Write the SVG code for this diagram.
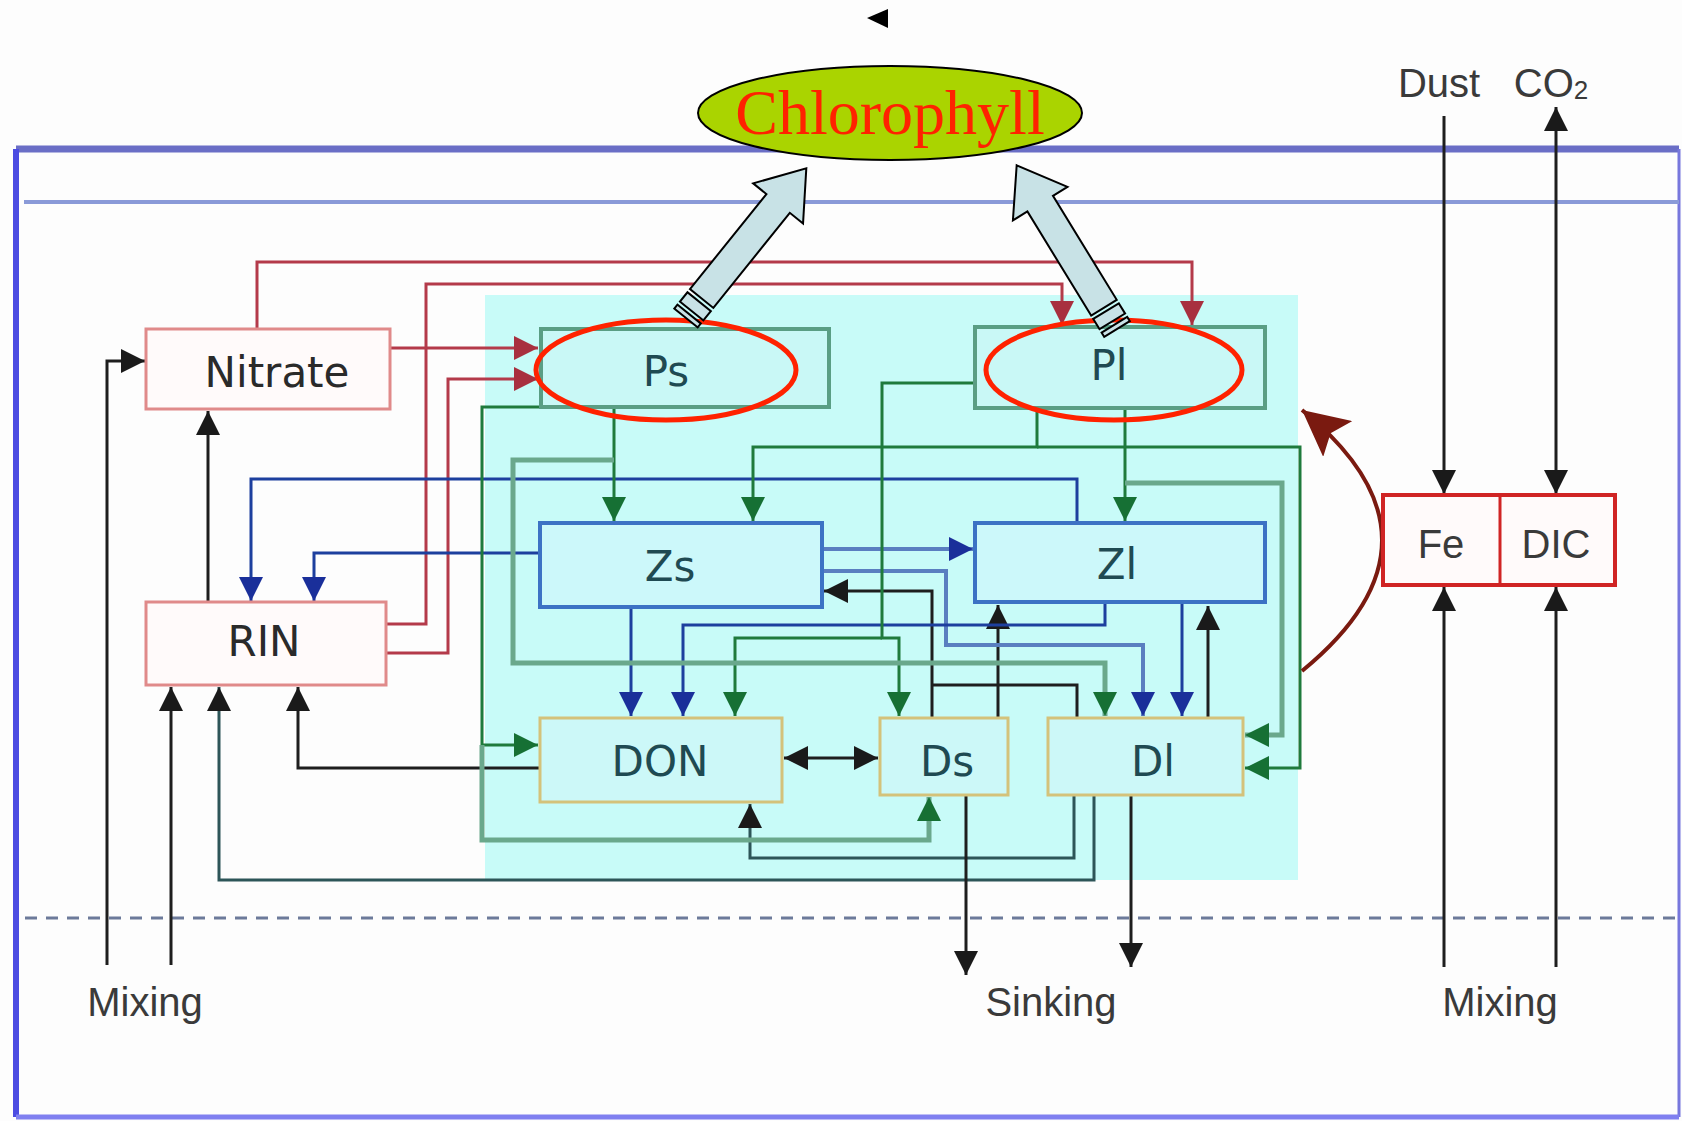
<svg xmlns="http://www.w3.org/2000/svg" width="1682" height="1121" viewBox="0 0 1682 1121">
<style>
.ln{fill:none;stroke-width:3}
.red{stroke:#b43a4a}
.blk{stroke:#1e1e1e}
.teal{stroke:#2d5558}
.blu{stroke:#1d3f9e}
.lblu{stroke:#5a7ec0;stroke-width:4}
.grn{stroke:#1f7a3c}
.gg{stroke:#6aa88c;stroke-width:5}
.box{stroke-width:4}
.pbox{fill:#c9f8f6;stroke:#5a9e84}
.zbox{fill:#ccf8fa;stroke:#3c72c4}
.dbox{fill:#ccf8f8;stroke:#d4c27a;stroke-width:3}
.wbox{fill:#fffafa;stroke:#e08a8a;stroke-width:3}
.lbl{font-family:"DejaVu Sans",sans-serif;fill:#1f4a52;text-anchor:middle;font-size:42px}
.dk{fill:#2a2a2a}
.side{font-family:"Liberation Sans",Arial,sans-serif;fill:#3a3a3a;font-size:40px;text-anchor:middle}
.blockarrow{fill:#c8e2e6;stroke:#000;stroke-width:2}
.hl{fill:none;stroke:#ff2200;stroke-width:5}
</style>
<defs>
<marker id="aK" viewBox="0 0 24 24" refX="24" refY="12" markerWidth="24" markerHeight="24" markerUnits="userSpaceOnUse" orient="auto-start-reverse"><path d="M0,0 L24,12 L0,24 Z" fill="#1a1a1a"/></marker>
<marker id="aR" viewBox="0 0 24 24" refX="24" refY="12" markerWidth="24" markerHeight="24" markerUnits="userSpaceOnUse" orient="auto"><path d="M0,0 L24,12 L0,24 Z" fill="#a8303f"/></marker>
<marker id="aB" viewBox="0 0 24 24" refX="24" refY="12" markerWidth="24" markerHeight="24" markerUnits="userSpaceOnUse" orient="auto"><path d="M0,0 L24,12 L0,24 Z" fill="#1a2f9a"/></marker>
<marker id="aG" viewBox="0 0 24 24" refX="24" refY="12" markerWidth="24" markerHeight="24" markerUnits="userSpaceOnUse" orient="auto"><path d="M0,0 L24,12 L0,24 Z" fill="#167034"/></marker>
<marker id="aD" viewBox="0 0 40 40" refX="40" refY="20" markerWidth="46" markerHeight="46" markerUnits="userSpaceOnUse" orient="auto"><path d="M0,0 L40,20 L0,40 L8,20 Z" fill="#7a1a10"/></marker>
</defs>
<rect width="1682" height="1121" fill="#fdfdfd"/>
<g id="frame">
<path d="M16,149 H1679" stroke="#6a6ec6" stroke-width="7" fill="none"/>
<path d="M16,149 V1117" stroke="#4c4ce2" stroke-width="6" fill="none"/>
<path d="M1679,149 V1117" stroke="#7777dd" stroke-width="3" fill="none"/>
<path d="M16,1117 H1679" stroke="#8080f0" stroke-width="5" fill="none"/>
<path d="M24,202 H1679" stroke="#8a9ad8" stroke-width="4" fill="none"/>
<path d="M25,918 H1679" stroke="#6c7a9a" stroke-width="3" stroke-dasharray="12 9" fill="none"/>
</g>
<rect id="zone" x="485" y="295" width="813" height="585" fill="#c8fbf8"/>
<polygon points="867,18 888,9 888,28" fill="#000"/>
<g id="connectors">
<path class="ln red" d="M257,329 V262 H1192 V325" marker-end="url(#aR)"/>
<path class="ln red" d="M386,624 H426 V284 H1062 V325" marker-end="url(#aR)"/>
<path class="ln red" d="M391,348 H538" marker-end="url(#aR)"/>
<path class="ln red" d="M386,653 H448 V379 H538" marker-end="url(#aR)"/>
<path class="ln blk" d="M107,965 V361 H145" marker-end="url(#aK)"/>
<path class="ln blk" d="M171,965 V687" marker-end="url(#aK)"/>
<path class="ln teal" d="M1094,795 V880 H219 V687" marker-end="url(#aK)"/>
<path class="ln blk" d="M540,768 H298 V687" marker-end="url(#aK)"/>
<path class="ln blk" d="M208,601 V411" marker-end="url(#aK)"/>
<path class="ln teal" d="M1074,795 V858 H750 V804" marker-end="url(#aK)"/>
<path class="ln blk" d="M784,758 H878" marker-start="url(#aK)" marker-end="url(#aK)"/>
<path class="ln blk" d="M998,718 V605" marker-end="url(#aK)"/>
<path class="ln blk" d="M1208,718 V606" marker-end="url(#aK)"/>
<path class="ln blk" d="M932,718 V591 H824" marker-end="url(#aK)"/>
<path class="ln blk" d="M1077,718 V685 H932"/>
<path class="ln blk" d="M966,795 V975" marker-end="url(#aK)"/>
<path class="ln blk" d="M1131,795 V967" marker-end="url(#aK)"/>
<path class="ln blk" d="M1444,116 V494" marker-end="url(#aK)"/>
<path class="ln blk" d="M1556,494 V107" marker-start="url(#aK)" marker-end="url(#aK)"/>
<path class="ln blk" d="M1444,967 V587" marker-end="url(#aK)"/>
<path class="ln blk" d="M1556,967 V587" marker-end="url(#aK)"/>
<path class="ln blu" d="M540,553 H314 V601" marker-end="url(#aB)"/>
<path class="ln blu" d="M1077,523 V479 H251 V601" marker-end="url(#aB)"/>
<path class="ln lblu" d="M822,549 H973" marker-end="url(#aB)"/>
<path class="ln lblu" d="M822,571 H946 V645 H1143 V716" marker-end="url(#aB)"/>
<path class="ln blu" d="M631,608 V716" marker-end="url(#aB)"/>
<path class="ln blu" d="M1105,602 V625 H683 V716" marker-end="url(#aB)"/>
<path class="ln blu" d="M1182,604 V716" marker-end="url(#aB)"/>
<path class="ln grn" d="M614,408 V521" marker-end="url(#aG)"/>
<path class="ln grn" d="M1037,408 V447 H753 V521" marker-end="url(#aG)"/>
<path class="ln grn" d="M1037,447 H1300 V768 H1245" marker-end="url(#aG)"/>
<path class="ln grn" d="M1125,408 V521" marker-end="url(#aG)"/>
<path class="ln gg" d="M1125,483 H1282 V735 H1245" marker-end="url(#aG)"/>
<path class="ln grn" d="M975,383 H882 V638 H899 V716" marker-end="url(#aG)"/>
<path class="ln grn" d="M882,638 H735 V716" marker-end="url(#aG)"/>
<path class="ln gg" d="M614,460 H513 V663 H1105 V716" marker-end="url(#aG)"/>
<path class="ln grn" d="M541,407 H482 V745 H538" marker-end="url(#aG)"/>
<path class="ln gg" d="M482,745 V840 H929 V797" marker-end="url(#aG)"/>
<path d="M1302,671 Q1462,540 1302,410" fill="none" stroke="#7a1a10" stroke-width="4" marker-end="url(#aD)"/>
</g>
<g id="node-nitrate"><rect class="wbox" x="146" y="329" width="244" height="80"/><text class="lbl dk" x="277" y="387" font-size="44">Nitrate</text></g>
<g id="node-rin"><rect class="wbox" x="146" y="602" width="240" height="83"/><text class="lbl dk" x="264" y="656" font-size="44">RIN</text></g>
<g id="node-ps"><rect class="box pbox" x="541" y="329" width="288" height="78"/><text class="lbl" x="666" y="386" font-size="40">Ps</text></g>
<g id="node-pl"><rect class="box pbox" x="975" y="327" width="290" height="81"/><text class="lbl" x="1109" y="380" font-size="40">Pl</text></g>
<g id="node-zs"><rect class="box zbox" x="540" y="523" width="282" height="84"/><text class="lbl" x="670" y="581">Zs</text></g>
<g id="node-zl"><rect class="box zbox" x="975" y="523" width="290" height="79"/><text class="lbl" x="1117" y="579">Zl</text></g>
<g id="node-don"><rect class="dbox" x="540" y="718" width="242" height="84"/><text class="lbl" x="660" y="776">DON</text></g>
<g id="node-ds"><rect class="dbox" x="880" y="718" width="128" height="77"/><text class="lbl" x="947" y="776">Ds</text></g>
<g id="node-dl"><rect class="dbox" x="1048" y="718" width="195" height="77"/><text class="lbl" x="1153" y="776">Dl</text></g>
<g id="node-fedic"><rect x="1383" y="495" width="232" height="90" fill="#fffafa" stroke="#d02424" stroke-width="4"/><line x1="1500" y1="495" x2="1500" y2="585" stroke="#d02424" stroke-width="3"/><text class="side" x="1441" y="558" font-size="38">Fe</text><text class="side" x="1556" y="558" font-size="38">DIC</text></g>
<g id="labels">
<text class="side" x="1439" y="97">Dust</text>
<text class="side" x="1551" y="97">CO<tspan font-size="26" dy="2">2</tspan></text>
<text class="side" x="145" y="1016">Mixing</text>
<text class="side" x="1051" y="1016">Sinking</text>
<text class="side" x="1500" y="1016">Mixing</text>
</g>
<g id="highlights">
<ellipse class="hl" cx="666" cy="370" rx="130" ry="50"/>
<ellipse class="hl" cx="1114" cy="370" rx="128" ry="50"/>
</g>
<g id="arrow-ps" transform="translate(686,318) rotate(-51.2)">
<rect class="blockarrow" x="0" y="-15" width="5" height="30"/>
<rect class="blockarrow" x="9" y="-15" width="12" height="30"/>
<polygon class="blockarrow" points="25,-15 147,-15 147,-32 192,0 147,32 147,15 25,15"/>
</g>
<g id="arrow-pl" transform="translate(1117,329) rotate(-121.5)">
<rect class="blockarrow" x="0" y="-15" width="5" height="30"/>
<rect class="blockarrow" x="9" y="-15" width="12" height="30"/>
<polygon class="blockarrow" points="25,-15 147,-15 147,-32 192,0 147,32 147,15 25,15"/>
</g>
<g id="node-chlorophyll">
<ellipse cx="890" cy="113" rx="192" ry="47" fill="#aad400" stroke="#000" stroke-width="2"/>
<text x="890" y="134" font-family="'Liberation Serif','Times New Roman',serif" font-size="64" fill="#ff2200" text-anchor="middle">Chlorophyll</text>
</g>
</svg>
